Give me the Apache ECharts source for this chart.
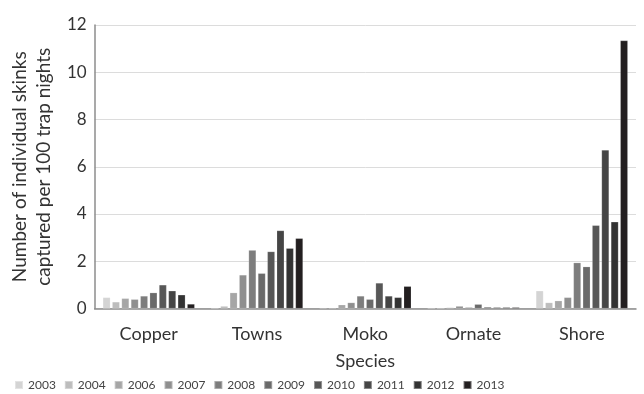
<!DOCTYPE html>
<html><head><meta charset="utf-8">
<script src="https://cdn.jsdelivr.net/npm/echarts@6/dist/echarts.min.js"></script>
<style>html,body{margin:0;padding:0;background:#fff}#c{width:644px;height:394px}</style>
</head><body><div id="c"></div>
<script>
const categories = ['Copper', 'Towns', 'Moko', 'Ornate', 'Shore'];
const years = ['2003', '2004', '2006', '2007', '2008', '2009', '2010', '2011', '2012', '2013'];
const y2003 = [0.47, 0.00, 0.02, 0.00, 0.75];
const y2004 = [0.28, 0.10, 0.02, 0.00, 0.25];
const y2006 = [0.43, 0.67, 0.16, 0.04, 0.33];
const y2007 = [0.39, 1.42, 0.25, 0.10, 0.47];
const y2008 = [0.53, 2.47, 0.53, 0.05, 1.94];
const y2009 = [0.67, 1.49, 0.39, 0.18, 1.77];
const y2010 = [1.00, 2.41, 1.08, 0.06, 3.52];
const y2011 = [0.75, 3.30, 0.53, 0.05, 6.71];
const y2012 = [0.58, 2.55, 0.47, 0.05, 3.67];
const y2013 = [0.19, 2.97, 0.94, 0.05, 11.34];
const yTicks = [0, 2, 4, 6, 8, 10, 12];
const values = [y2003, y2004, y2006, y2007, y2008, y2009, y2010, y2011, y2012, y2013];
const colors = ['#d4d4d4', '#bdbdbd', '#a6a6a6', '#8f8f8f', '#7d7d7d', '#6a6a6a', '#575757', '#454545', '#333333', '#231f20'];
const font = 'Lato, "Open Sans", sans-serif';
const chart = echarts.init(document.getElementById('c'));
chart.setOption({
  animation: false,
  textStyle: { fontFamily: font },
  grid: { left: 93, right: 8, top: 25, bottom: 85.5 },
  legend: {
    data: years, left: 9, top: 374, itemWidth: 8, itemHeight: 8, itemGap: 8,
    icon: 'rect', textStyle: { fontSize: 12, color: '#444', fontFamily: font }
  },
  xAxis: {
    type: 'category', data: categories,
    name: 'Species', nameLocation: 'middle', nameGap: 44,
    nameTextStyle: { fontSize: 18, color: '#333', fontFamily: font },
    axisLine: { lineStyle: { color: '#8c8c8c', width: 1.5 } },
    axisTick: { show: false },
    axisLabel: { fontSize: 18, color: '#333', margin: 17, fontFamily: font }
  },
  yAxis: {
    type: 'value', min: yTicks[0], max: yTicks[yTicks.length - 1], interval: 2,
    name: 'Number of individual skinks\ncaptured per 100 trap nights',
    nameLocation: 'middle', nameGap: 35, nameRotate: 90,
    nameTextStyle: { fontSize: 19, color: '#333', lineHeight: 24, fontFamily: font },
    axisLine: { show: true, lineStyle: { color: '#8c8c8c', width: 1.5 } },
    axisTick: { show: false },
    axisLabel: { fontSize: 17, color: '#333', margin: 8, fontFamily: font },
    splitLine: { lineStyle: { color: '#dcdcdc', width: 1 } }
  },
  series: years.map((y, i) => ({
    name: y, type: 'bar', data: values[i],
    barWidth: 7.5, barGap: '25%',
    itemStyle: { color: colors[i], borderColor: 'rgba(255,255,255,0.35)', borderWidth: 0.5 }
  }))
});
</script></body></html>
